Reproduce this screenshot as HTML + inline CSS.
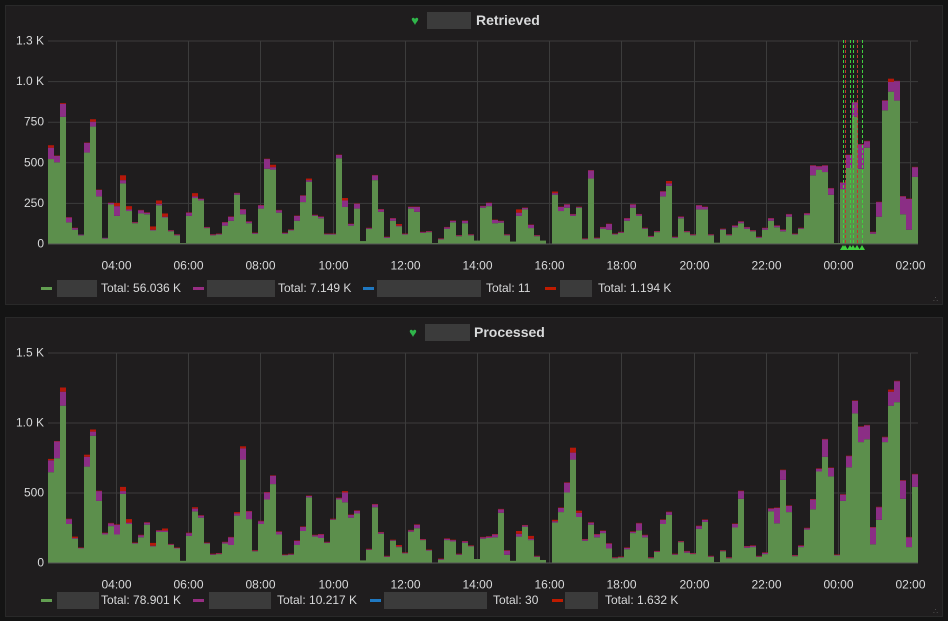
<!DOCTYPE html>
<html><head><meta charset="utf-8">
<style>
html,body{margin:0;padding:0;background:#141414;width:948px;height:621px;overflow:hidden;font-family:"Liberation Sans",sans-serif}
svg text{font-family:"Liberation Sans",sans-serif}
</style></head>
<body>
<svg id="root" width="948" height="621" viewBox="0 0 948 621">
<rect x="0" y="0" width="948" height="621" fill="#141414"/>
</svg>
<script>
const categoriesCount = 145;
const tickLabels = ["04:00","06:00","08:00","10:00","12:00","14:00","16:00","18:00","20:00","22:00","00:00","02:00"];
const ticks1 = ["0","250","500","750","1.0 K","1.3 K"];
const tickVals1 = [0,250,500,750,1000,1250];
const ticks2 = ["0","500","1.0 K","1.5 K"];
const tickVals2 = [0,500,1000,1500];

const g1 = [520,500,780,130,85,50,560,720,290,30,240,170,370,200,125,185,180,80,235,160,75,50,3,170,280,265,95,50,55,110,140,300,180,125,60,215,460,455,190,60,80,140,255,380,170,155,55,55,525,225,110,215,15,90,390,195,35,140,105,55,215,195,65,70,3,25,90,130,45,125,50,18,220,230,125,128,50,12,170,210,95,45,18,0,300,200,220,170,220,25,400,30,90,85,55,65,140,220,170,90,40,70,290,355,35,155,70,50,210,210,50,5,85,50,100,125,90,75,35,85,140,100,75,165,55,90,175,420,455,440,300,3,335,465,780,460,590,60,165,820,935,880,180,85,410];
const p1 = [70,40,80,30,10,5,60,30,40,5,10,60,20,10,5,20,10,5,10,5,5,5,0,20,10,10,5,5,5,20,25,10,30,10,5,20,60,15,15,5,5,30,40,10,5,10,5,5,20,40,10,30,0,5,30,15,5,15,5,5,10,30,5,5,0,5,10,10,5,15,5,0,10,20,20,10,5,0,20,10,20,5,0,0,10,25,20,10,5,5,50,5,10,35,5,5,15,20,10,5,5,5,30,15,5,10,5,5,25,15,5,0,5,5,10,10,10,5,5,10,15,10,10,15,5,5,10,60,20,40,40,0,40,80,90,150,40,10,90,60,60,120,110,190,60];
const r1 = [15,2,5,2,2,0,2,15,2,0,2,20,30,20,2,2,2,20,20,20,2,2,0,2,20,2,2,2,2,2,2,2,2,2,2,2,2,15,2,2,2,2,2,10,2,2,2,2,2,15,2,2,0,2,2,2,2,2,10,2,2,2,2,2,0,2,2,2,2,2,2,0,2,2,2,2,2,0,20,2,2,2,0,0,10,2,2,2,2,2,2,2,2,2,2,2,2,2,2,2,2,2,2,15,2,2,2,2,2,2,2,0,2,2,2,2,2,2,2,2,2,2,2,2,2,2,2,2,2,2,2,0,2,2,2,2,2,2,2,2,20,2,2,2,2];

const g2 = [645,745,1120,275,170,100,685,905,440,200,260,200,490,275,135,180,270,115,218,218,125,100,12,190,365,320,135,55,60,135,125,335,735,310,80,275,450,560,200,50,55,125,225,465,185,175,140,305,450,430,320,350,15,90,395,205,40,155,110,65,220,245,160,85,0,20,160,150,55,140,115,25,170,175,180,355,55,12,185,255,160,40,18,0,285,360,500,735,325,155,270,180,210,100,30,35,95,210,230,180,30,75,275,340,55,145,70,60,240,290,40,3,80,30,250,455,105,110,40,60,365,280,590,360,45,110,235,380,650,755,615,50,440,680,1065,860,880,130,305,860,1120,1145,455,110,540];
const p2 = [85,120,100,35,5,5,70,30,70,10,20,70,20,10,5,15,15,5,10,10,5,5,0,20,20,15,5,5,5,10,55,15,80,55,5,20,50,60,20,5,5,30,30,10,10,25,5,5,10,70,20,20,0,5,20,10,5,5,5,5,10,25,5,5,0,5,10,10,5,10,5,0,10,10,20,25,30,0,20,10,10,5,0,0,10,30,70,50,30,10,15,20,15,35,5,5,10,10,50,15,5,5,30,20,5,5,10,5,20,15,5,0,5,5,25,55,10,10,5,10,20,110,70,45,5,10,10,70,20,125,60,5,45,80,90,110,100,120,90,35,100,150,130,70,90];
const r2 = [10,3,30,3,10,3,15,15,3,3,3,3,30,25,3,3,3,20,3,15,3,3,0,3,10,3,3,3,3,3,3,10,15,3,3,3,3,3,3,3,3,3,3,3,3,3,3,3,3,10,3,3,0,3,3,3,3,3,10,3,3,3,3,3,0,3,3,3,3,3,3,0,3,3,3,3,3,0,20,3,20,3,0,0,10,3,3,35,15,3,3,3,3,3,3,3,3,3,3,3,3,3,3,3,3,3,3,3,3,3,3,0,3,3,3,3,3,3,3,3,3,3,3,3,3,3,3,3,3,3,3,3,3,3,3,3,3,3,3,3,15,3,3,3,3];

const NS = "http://www.w3.org/2000/svg";
const root = document.getElementById('root');
function mk(tag, attrs, parent){const e=document.createElementNS(NS,tag);for(const k in attrs)e.setAttribute(k,attrs[k]);(parent||root).appendChild(e);return e;}
const PX0 = 48, BW = 6;
function xScale(i){return PX0 + i*BW;}
function tickX(k){return 116 + k*72.2;}

function panel(top, title, titleX, heartX, boxW, baseY, pxPer, tickLabelsY, tickValsY, G, P, R, legend, nameKey){
  const gp = mk('g', {});
  
  
  const bg = mk('rect',{x:5.5,y:top+0.5,width:937,height:299,fill:'#1f1d1e',stroke:'#292929'},gp);
  
  
  // title
  const heart = mk('text',{x:heartX,y:top+20,fill:'#2fb54a','font-size':13,'text-anchor':'middle'},gp);
  heart.textContent='\u2665';
  
  
  const tb = mk('rect',{x:heartX+12,y:top+7,width:boxW,height:17,fill:'#3b3b3b'},gp);
  
  
  const tt = mk('text',{x:titleX,y:top+20,fill:'#d8d9da','font-size':14,'font-weight':'bold'},gp);
  tt.textContent = title;
  
  
  const y = v => baseY - v*pxPer;
  // grid
  tickValsY.forEach((v,k)=>{
    const l = mk('line',{x1:48,x2:918,y1:y(v)+0.5,y2:y(v)+0.5,stroke:'#3c3c3c'},gp);
    
    
    const t = mk('text',{x:44,y:y(v)+4,fill:'#d8d9da','font-size':12,'text-anchor':'end'},gp);
    t.textContent = tickLabelsY[k];
    
    
  });
  const topY = y(tickValsY[tickValsY.length-1]);
  tickLabels.forEach((lab,k)=>{
    const x = Math.round(tickX(k))+0.5;
    const l = mk('line',{x1:x,x2:x,y1:topY,y2:baseY,stroke:'#3c3c3c'},gp);
    
    
    const t = mk('text',{x:x,y:baseY+26,fill:'#d8d9da','font-size':12,'text-anchor':'middle'},gp);
    t.textContent = lab;
    
    
  });
  // bars
  for(let i=0;i<G.length;i++){
    const x = xScale(i);
    const yg = y(G[i]), yp = y(G[i]+P[i]), yr = y(G[i]+P[i]+R[i]);
    const b1 = mk('rect',{x:x,y:yg,width:BW,height:baseY-yg,fill:'#5c8f4c'},gp);
    
    
    const b2 = mk('rect',{x:x,y:yp,width:BW,height:yg-yp,fill:'#8b2e85'},gp);
    
    
    const b3 = mk('rect',{x:x,y:yr,width:BW,height:yp-yr,fill:'#b5180a'},gp);
    
    
  }
  const ax = mk('line',{x1:48,x2:918,y1:baseY+0.5,y2:baseY+0.5,stroke:'#555'},gp);
  
  
  // legend
  const colors = ['#629e51','#962d82','#1f78c1','#bf1b00'];
  legend.forEach((e,k)=>{
    const ly = top+283;
    const g = mk('g',{},gp);
    
    
    mk('rect',{x:e[0],y:ly-1,width:11,height:3,fill:colors[k]},g);
    mk('rect',{x:e[1],y:ly-8,width:e[2],height:17,fill:'#3b3b3b'},g);
    const t = mk('text',{x:e[3],y:ly+4,fill:'#d8d9da','font-size':12},g);
    t.textContent = e[4];
  });
  // resize handle
  const rh = mk('text',{x:933,y:top+297,fill:'#555','font-size':8},gp);
  rh.textContent='\u2234';
  
  
}

panel(5,'Retrieved',476,415,44,243.5,0.1624,ticks1,tickVals1,g1,p1,r1,
  [[41,57,40,101,'Total: 56.036 K'],[193,207,68,278,'Total: 7.149 K'],[363,377,104,486,'Total: 11'],[545,560,32,598,'Total: 1.194 K']],'retrieved');
panel(317,'Processed',474,413,45,562.5,0.14,ticks2,tickVals2,g2,p2,r2,
  [[41,57,42,101,'Total: 78.901 K'],[193,209,62,277,'Total: 10.217 K'],[370,384,103,493,'Total: 30'],[552,565,33,605,'Total: 1.632 K']],'processed');

// annotations on retrieved chart
const annX = [843,845,850,853,857,862];
annX.forEach((x,k)=>{
  const l = mk('line',{x1:x+0.5,x2:x+0.5,y1:40,y2:243,stroke:k%3===1?'#c0392b':'#3fd13f','stroke-dasharray':'3,2','stroke-width':1});
  
  
  const t = mk('polygon',{points:`${x-3},250 ${x+3},250 ${x},245`,fill:'#3fd13f'});
  
  
});
</script>
</body></html>
